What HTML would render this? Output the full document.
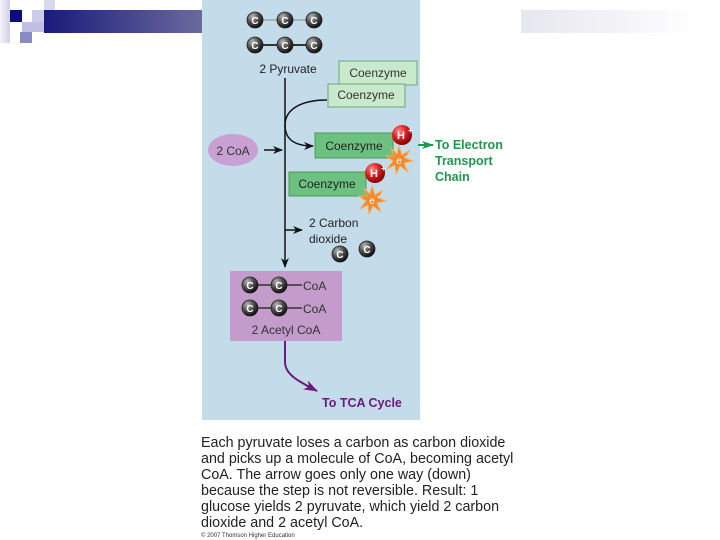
<!DOCTYPE html>
<html><head><meta charset="utf-8"><style>
html,body{margin:0;padding:0;background:#fff;}
svg{display:block;font-family:"Liberation Sans",sans-serif;}
</style></head><body>
<svg width="720" height="540" viewBox="0 0 720 540" xmlns="http://www.w3.org/2000/svg">
<defs>
<linearGradient id="bar" x1="0" x2="1"><stop offset="0" stop-color="#1a1a7a"/><stop offset="1" stop-color="#6a6aa0"/></linearGradient>
<linearGradient id="rbar" x1="0" x2="1"><stop offset="0" stop-color="#e6e6ee"/><stop offset="1" stop-color="#ffffff"/></linearGradient>
<linearGradient id="lsq" x1="0" x2="1"><stop offset="0" stop-color="#f4f4fa"/><stop offset="1" stop-color="#d0d0e8"/></linearGradient>
<radialGradient id="cb" cx="0.35" cy="0.3" r="0.7"><stop offset="0" stop-color="#bbb"/><stop offset="0.5" stop-color="#555"/><stop offset="1" stop-color="#111"/></radialGradient>
<radialGradient id="hb" cx="0.35" cy="0.3" r="0.7"><stop offset="0" stop-color="#f88"/><stop offset="0.5" stop-color="#d22"/><stop offset="1" stop-color="#800"/></radialGradient>
<marker id="ak" markerWidth="10" markerHeight="8" refX="9" refY="4" orient="auto" markerUnits="userSpaceOnUse"><path d="M0,0 L10,4 L0,8 L3,4Z" fill="#111"/></marker>
<marker id="ag" markerWidth="12" markerHeight="8" refX="11" refY="4" orient="auto" markerUnits="userSpaceOnUse"><path d="M0,0 L12,4 L0,8 L3,4Z" fill="#1a9a4a"/></marker>
<marker id="ap" markerWidth="14" markerHeight="10" refX="13" refY="5" orient="auto" markerUnits="userSpaceOnUse"><path d="M0,0 L14,5 L0,10 L4,5Z" fill="#6a1a80"/></marker>
<g id="c"><circle r="8" fill="url(#cb)" stroke="#222" stroke-width="0.8"/><text y="4" text-anchor="middle" font-size="10" font-weight="bold" fill="#fff">C</text></g>
<g id="h"><circle r="10" fill="url(#hb)"/><text x="-1" y="4" text-anchor="middle" font-size="11" font-weight="bold" fill="#fff">H</text><text x="6" y="-2" font-size="8" font-weight="bold" fill="#fff">+</text></g>
<g id="e"><polygon points="0,-14 3,-5 11,-10 6,-2 14,1 5,3 9,12 1,6 -3,14 -4,5 -12,9 -6,1 -13,-4 -5,-4 -8,-12 -2,-6" fill="#f08a30" stroke="#f5b060" stroke-width="1"/><text y="4" text-anchor="middle" font-size="10" fill="#fff">e</text><text x="5" y="-1" font-size="8" fill="#fff">-</text></g>
</defs>
<rect x="0" y="0" width="10" height="43" fill="url(#lsq)"/>
<rect x="10" y="10" width="12" height="12" fill="#0c0c80"/>
<rect x="32" y="10" width="12" height="12" fill="#ccccea"/>
<rect x="44" y="0" width="11" height="10" fill="#d8d8ee"/>
<rect x="44" y="10" width="11" height="12" fill="#9a9ad0"/>
<rect x="22" y="22" width="22" height="10" fill="#c0c0e4"/>
<rect x="20" y="32" width="12" height="11" fill="#8a8ac4"/>
<rect x="44" y="10" width="158" height="23" fill="url(#bar)"/>
<rect x="521" y="10" width="177" height="23" fill="url(#rbar)"/>
<rect x="202" y="0" width="218" height="420" fill="#c4dcea"/>
<line x1="255" y1="20" x2="314" y2="20" stroke="#888" stroke-width="1"/>
<line x1="255" y1="45" x2="314" y2="45" stroke="#333" stroke-width="2"/>
<use href="#c" x="255" y="20"/><use href="#c" x="285" y="20"/><use href="#c" x="314" y="20"/>
<use href="#c" x="255" y="45"/><use href="#c" x="285" y="45"/><use href="#c" x="314" y="45"/>
<text x="288" y="73" text-anchor="middle" font-size="12" fill="#222">2 Pyruvate</text>
<rect x="339" y="61" width="78" height="24" fill="#c9e9cc" stroke="#6aa87a"/>
<text x="378" y="77" text-anchor="middle" font-size="12" fill="#333">Coenzyme</text>
<rect x="328" y="84" width="77" height="23" fill="#c9e9cc" stroke="#6aa87a"/>
<text x="366" y="99" text-anchor="middle" font-size="12" fill="#333">Coenzyme</text>
<line x1="285" y1="78" x2="285" y2="267" stroke="#111" stroke-width="1.5" marker-end="url(#ak)"/>
<path d="M327,100 C300,100 285,110 285,125 C285,140 295,146 313,146" fill="none" stroke="#111" stroke-width="1.5" marker-end="url(#ak)"/>
<rect x="315" y="133" width="78" height="25" fill="#6cc080" stroke="#4a9a5a"/>
<text x="354" y="150" text-anchor="middle" font-size="12" fill="#222">Coenzyme</text>
<use href="#e" x="399" y="160"/><use href="#h" x="402" y="135"/>
<line x1="418" y1="145" x2="433" y2="145" stroke="#1a9a4a" stroke-width="2" marker-end="url(#ag)"/>
<g font-size="12.5" font-weight="bold" fill="#1a9a4a"><text x="435" y="149">To Electron</text><text x="435" y="165">Transport</text><text x="435" y="181">Chain</text></g>
<rect x="289" y="172" width="77" height="24" fill="#6cc080" stroke="#4a9a5a"/>
<text x="327" y="188" text-anchor="middle" font-size="12" fill="#222">Coenzyme</text>
<use href="#e" x="372" y="200"/><use href="#h" x="375" y="173"/>
<ellipse cx="233" cy="150" rx="25" ry="16" fill="#c9a0d4"/>
<text x="233" y="155" text-anchor="middle" font-size="12" fill="#333">2 CoA</text>
<line x1="264" y1="150" x2="282" y2="150" stroke="#111" stroke-width="1.5" marker-end="url(#ak)"/>
<line x1="285" y1="230" x2="302" y2="230" stroke="#111" stroke-width="1.5" marker-end="url(#ak)"/>
<text x="309" y="227" font-size="12" fill="#222">2 Carbon</text>
<text x="309" y="243" font-size="12" fill="#222">dioxide</text>
<use href="#c" x="340" y="254"/><use href="#c" x="367" y="249"/>
<rect x="230" y="271" width="112" height="70" fill="#c49ccc"/>
<line x1="250" y1="285" x2="302" y2="285" stroke="#333" stroke-width="1.5"/>
<line x1="250" y1="308" x2="302" y2="308" stroke="#333" stroke-width="1.5"/>
<use href="#c" x="250" y="285"/><use href="#c" x="279" y="285"/><use href="#c" x="250" y="308"/><use href="#c" x="279" y="308"/>
<text x="303" y="290" font-size="12" fill="#333">CoA</text>
<text x="303" y="313" font-size="12" fill="#333">CoA</text>
<text x="286" y="334" text-anchor="middle" font-size="12" fill="#333">2 Acetyl CoA</text>
<path d="M285,341 L285,362 C285,375 300,382 317,391" fill="none" stroke="#6a1a80" stroke-width="2" marker-end="url(#ap)"/>
<text x="322" y="407" font-size="12.5" font-weight="bold" fill="#6a1a80">To TCA Cycle</text>
<g font-size="14.3" fill="#222">
<text x="201" y="447">Each pyruvate loses a carbon as carbon dioxide</text>
<text x="201" y="463">and picks up a molecule of CoA, becoming acetyl</text>
<text x="201" y="479">CoA. The arrow goes only one way (down)</text>
<text x="201" y="495">because the step is not reversible. Result: 1</text>
<text x="201" y="511">glucose yields 2 pyruvate, which yield 2 carbon</text>
<text x="201" y="527">dioxide and 2 acetyl CoA.</text>
</g>
<text x="201" y="537" font-size="6" fill="#333">© 2007 Thomson Higher Education</text>
</svg>
</body></html>
